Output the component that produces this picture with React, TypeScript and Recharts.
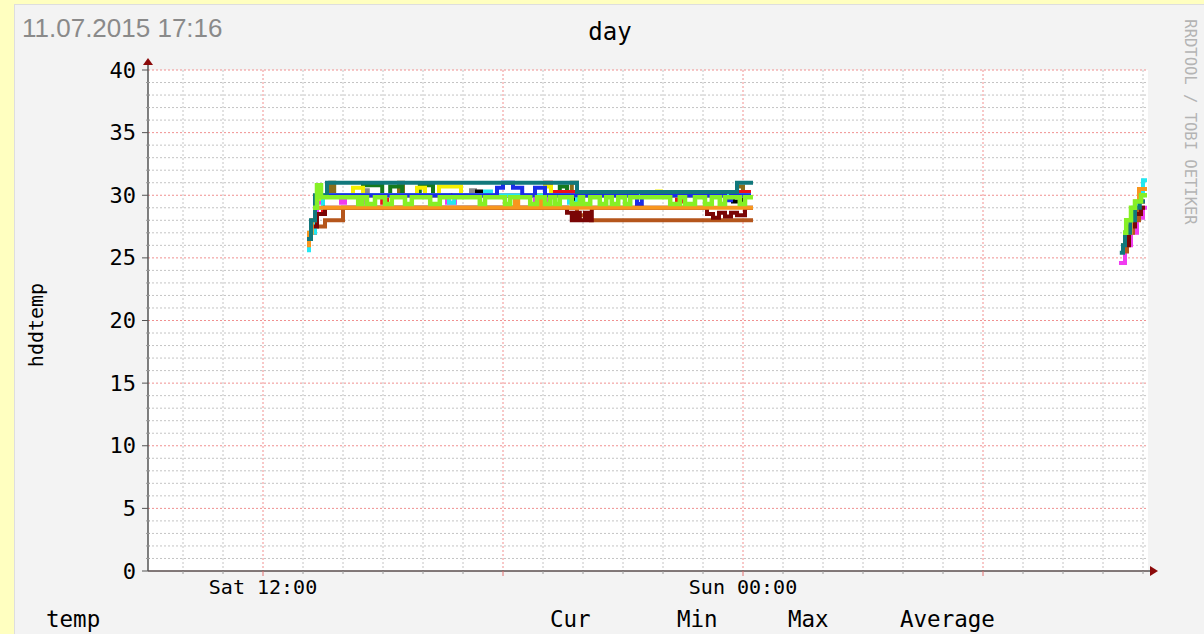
import React from 'react';
import {
  LineChart,
  Line,
  XAxis,
  YAxis,
  CartesianGrid,
  ReferenceDot
} from 'recharts';

type Pt = [number, number | null];

// time axis in hours since Sat 00:00
const hourStart = 9.125;
const hourEnd = 34.125;
const hourTicks = [10, 11, 12, 13, 14, 15, 16, 17, 18, 19, 20, 21, 22, 23, 24, 25, 26, 27, 28, 29, 30, 31, 32, 33, 34];
const majorHours = [12, 18, 24, 30];
const minorHours = [10, 11, 13, 14, 15, 16, 17, 19, 20, 21, 22, 23, 25, 26, 27, 28, 29, 31, 32, 33, 34];
const labelHours = [12, 24];
const labelTexts = ['Sat 12:00', 'Sun 00:00'];

const tempTicks = [0, 1, 2, 3, 4, 5, 6, 7, 8, 9, 10, 11, 12, 13, 14, 15, 16, 17, 18, 19, 20, 21, 22, 23, 24, 25, 26, 27, 28, 29, 30, 31, 32, 33, 34, 35, 36, 37, 38, 39, 40];
const majorTemps = [5, 10, 15, 20, 25, 30, 35, 40];
const minorTemps = [1, 2, 3, 4, 6, 7, 8, 9, 11, 12, 13, 14, 16, 17, 18, 19, 21, 22, 23, 24, 26, 27, 28, 29, 31, 32, 33, 34, 36, 37, 38, 39];

const legendHeads = ['temp', 'Cur', 'Min', 'Max', 'Average'];

// one list of [hour, °C] step points per drive
const grayTemps: Pt[] = [[13.6, 30], [14.55, 30.4], [14.62, 30], [17.2, 30.4], [17.3, 30], [24.2, 30]];
const oliveTemps: Pt[] = [[13.6, 30], [13.68, 31], [13.78, 30], [15.4, 31], [15.5, 30], [19.72, 31], [19.85, 30], [23.85, 30.7], [24.0, 30], [24.2, 30]];
const darkGreenTemps: Pt[] = [[13.6, 30], [14.5, 30.8], [14.98, 30], [15.18, 30.7], [15.48, 30], [15.92, 30.8], [16.25, 30], [19.42, 30.7], [19.6, 30], [24.2, 30]];
const blackTemps: Pt[] = [[13.6, 30], [17.35, 30.3], [17.45, 30], [19.75, 29.5], [19.95, 30], [23.75, 29.5], [23.95, 30], [24.2, 30]];
const redTemps: Pt[] = [[13.15, 27], [13.3, 28.5], [13.5, 30], [14.98, 29.4], [15.1, 30], [19.05, 31], [19.2, 30.25], [22.35, 29.5], [22.5, 30.25], [24.2, 30.25], [24.3, null], [33.7, 28.5], [33.9, 29.5], [34.05, 29.5]];
const yellowTemps: Pt[] = [[13.3, 29.5], [13.45, 30], [14.25, 30.6], [14.5, 30], [15.85, 30.6], [16.05, 30], [16.4, 30.7], [16.95, 30], [19.05, 30.7], [19.2, 30], [21.85, 30.3], [21.95, 30], [24.2, 30]];
const magentaTemps: Pt[] = [[13.2, 28], [13.35, 29.4], [13.5, 30], [13.95, 29.4], [14.05, 30], [14.4, 29.4], [14.55, 30], [16.6, 29.4], [16.8, 30], [18.8, 29.4], [19.15, 30], [24.2, 30], [24.3, null], [33.4, 24.6], [33.55, 26], [33.7, 27], [33.85, 28.2], [34.0, 29], [34.1, 29]];
const cyanTemps: Pt[] = [[13.1, 25.6], [13.15, 27], [13.3, 29], [13.5, 30], [16.65, 29.4], [16.78, 30], [17.55, 30.3], [17.7, 30], [19.65, 29.4], [19.85, 30], [24.2, 30], [24.3, null], [33.45, 26], [33.6, 27.5], [33.75, 29], [33.9, 30], [34.0, 31.2], [34.1, 31.2]];
const blueTemps: Pt[] = [[13.6, 30], [17.85, 30.6], [18.0, 31], [18.25, 30.6], [18.48, 30], [18.8, 30.6], [19.05, 30], [21.35, 29.3], [21.47, 30], [23.55, 29.6], [23.7, 30], [24.2, 30]];
const brownTemps: Pt[] = [[13.35, 27.5], [13.55, 28], [14.0, 29], [19.85, 28.4], [20.2, 28], [24.25, 28], [24.3, null], [33.45, 25.5], [33.6, 27], [33.75, 28], [33.9, 29], [34.05, 29]];
const darkRedTemps: Pt[] = [[13.25, 27.5], [13.35, 28.5], [13.55, 29], [19.6, 28.6], [19.72, 28], [19.82, 28.6], [19.92, 28], [20.05, 28.6], [20.15, 28], [20.22, 29], [23.1, 28.5], [23.25, 28.2], [23.4, 28.6], [23.55, 28.3], [23.7, 28.6], [23.85, 28.4], [24.05, 29], [24.25, 29], [24.3, null], [33.5, 26], [33.65, 27.5], [33.8, 28.5], [33.95, 29], [34.05, 29]];
const orangeTemps: Pt[] = [[13.1, 26], [13.15, 27], [13.22, 28], [13.3, 29], [18.3, 29.6], [18.38, 29], [18.85, 29.6], [18.95, 29], [24.25, 29], [24.3, null], [33.45, 26], [33.55, 27], [33.7, 28.5], [33.8, 29.5], [33.9, 30.5], [34.1, 30.5]];
const tealTemps: Pt[] = [[13.1, 26.5], [13.2, 28], [13.3, 30], [13.6, 31], [19.85, 30.25], [23.85, 31], [24.25, 31], [24.3, null], [33.42, 25.4], [33.5, 26], [33.55, 27], [33.68, 28], [33.8, 29], [33.92, 29.5], [34.05, 29.5]];
const limeTemps: Pt[] = [[13.25, 29], [13.35, 30.8], [13.45, 29.85], [14.38, 29.3], [14.48, 29.85], [14.6, 29.3], [14.8, 29.85], [15.05, 29.3], [15.22, 29.85], [15.55, 29.3], [15.72, 29.85], [16.18, 29.3], [16.42, 29.85], [17.42, 29.3], [17.55, 29.85], [18.05, 29.3], [18.18, 29.85], [18.68, 29.3], [18.85, 29.85], [19.05, 29.3], [19.18, 29.85], [19.3, 29.3], [19.42, 29.85], [19.72, 29.3], [19.92, 29.85], [20.0, 29.3], [20.18, 29.85], [20.42, 29.3], [20.58, 29.85], [20.72, 29.3], [20.88, 29.85], [21.05, 29.3], [21.18, 29.85], [22.18, 29.3], [22.42, 29.85], [22.55, 29.3], [22.8, 29.85], [23.05, 29.3], [23.22, 29.85], [23.42, 29.3], [23.55, 29.85], [23.92, 29.3], [24.05, 29.85], [24.25, 29.85], [24.3, null], [33.5, 27], [33.58, 28], [33.7, 29], [33.8, 29.5], [33.95, 30], [34.1, 30]];

// drawing order: later ones on top
const drives: { key: string; pts: Pt[]; color: string }[] = [
  { key: 'gray', pts: grayTemps, color: '#8a8a8a' },
  { key: 'olive', pts: oliveTemps, color: '#8a6d1a' },
  { key: 'darkgreen', pts: darkGreenTemps, color: '#157a1c' },
  { key: 'black', pts: blackTemps, color: '#000000' },
  { key: 'red', pts: redTemps, color: '#ec1018' },
  { key: 'yellow', pts: yellowTemps, color: '#f4f000' },
  { key: 'magenta', pts: magentaTemps, color: '#f03cf0' },
  { key: 'cyan', pts: cyanTemps, color: '#22e8f2' },
  { key: 'blue', pts: blueTemps, color: '#1c2ce8' },
  { key: 'brown', pts: brownTemps, color: '#b5561c' },
  { key: 'darkred', pts: darkRedTemps, color: '#7a0606' },
  { key: 'orange', pts: orangeTemps, color: '#f8961e' },
  { key: 'teal', pts: tealTemps, color: '#11787c' },
  { key: 'lime', pts: limeTemps, color: '#86f026' }
];

const mono = "'DejaVu Sans Mono', monospace";

const HourTick = ({ x, y, payload }: any) => {
  const h = payload.value;
  const major = majorHours.includes(h);
  const idx = labelHours.indexOf(h);
  return (
    <g>
      <line x1={x} x2={x} y1={y} y2={y + (major ? 5 : 3)} stroke={major ? '#e07070' : '#9a9a9a'} />
      {idx >= 0 && (
        <text x={x} y={y} dy={23} textAnchor="middle" fontFamily={mono} fontSize={20} fill="#000">
          {labelTexts[idx]}
        </text>
      )}
    </g>
  );
};

const TempTick = ({ x, y, payload }: any) => {
  const v = payload.value;
  const major = v % 5 === 0;
  return (
    <g>
      {major ? (
        <line x1={x - 6} x2={x} y1={y} y2={y} stroke="#555" />
      ) : (
        <line x1={x - 2} x2={x + 2} y1={y} y2={y} stroke="#9a9a9a" />
      )}
      {major && (
        <text x={x - 12} y={y} dy={7.5} textAnchor="end" fontFamily={mono} fontSize={22} fill="#000">
          {v}
        </text>
      )}
    </g>
  );
};

const UpArrow = ({ cx, cy }: any) => (
  <g>
    <line x1={cx} x2={cx} y1={cy} y2={cy - 6} stroke="#555" strokeWidth={1.5} />
    <path d={`M${cx - 5},${cy - 5} L${cx + 5},${cy - 5} L${cx},${cy - 12} Z`} fill="#8b0a0a" />
  </g>
);

const RightArrow = ({ cx, cy }: any) => (
  <g>
    <line x1={cx} x2={cx + 3} y1={cy} y2={cy} stroke="#555" strokeWidth={1.5} />
    <path d={`M${cx + 2},${cy - 5} L${cx + 2},${cy + 5} L${cx + 10},${cy} Z`} fill="#8b0a0a" />
  </g>
);

export default function App() {
  return (
    <div style={{ position: 'absolute', left: 0, top: 0, width: 1204, height: 634, background: '#ffffc0', overflow: 'hidden' }}>
      <div
        style={{
          position: 'absolute', left: 14, top: 4, width: 1200, height: 640,
          background: '#f3f3f3', borderLeft: '1px solid #dedede', borderTop: '1px solid #dedede'
        }}
      />
      <svg width={1204} height={634} style={{ position: 'absolute', left: 0, top: 0 }}>
        <text x={22} y={37} fontFamily="'Liberation Sans', Arial, sans-serif" fontSize={26} fill="#8a8a8a">
          11.07.2015 17:16
        </text>
        <text x={610} y={40} textAnchor="middle" fontFamily={mono} fontSize={24} fill="#000">day</text>
        <text transform="translate(43,325) rotate(-90)" textAnchor="middle" fontFamily={mono} fontSize={20} fill="#000">
          hddtemp
        </text>
        <text transform="translate(1190,122) rotate(90)" textAnchor="middle" dominantBaseline="central" fontFamily={mono} fontSize={15.5} fill="#b4b4b4">
          RRDTOOL / TOBI OETIKER
        </text>
        {legendHeads.map((h, i) => (
          <text key={h} x={[46, 550, 677, 788, 900][i]} y={627} fontFamily={mono} fontSize={22.5} fill="#000">{h}</text>
        ))}
      </svg>
      <div style={{ position: 'absolute', left: 0, top: 0 }}>
        <LineChart width={1204} height={634} margin={{ top: 70, right: 56, bottom: 33, left: 88 }}>
          <CartesianGrid
            fill="#ffffff"
            horizontalValues={minorTemps}
            verticalValues={minorHours}
            stroke="#c4c4c4"
            strokeDasharray="2 2"
          />
          <CartesianGrid
            horizontalValues={majorTemps}
            verticalValues={majorHours}
            stroke="#f09090"
            strokeDasharray="2 2"
          />
          <XAxis
            type="number"
            dataKey="t"
            domain={[hourStart, hourEnd]}
            allowDataOverflow
            ticks={hourTicks}
            interval={0}
            tick={<HourTick />}
            tickLine={false}
            tickSize={0}
            tickMargin={0}
            height={30}
            axisLine={{ stroke: '#5a4c4c', strokeWidth: 1.5 }}
          />
          <YAxis
            type="number"
            domain={[0, 40]}
            allowDataOverflow
            ticks={tempTicks}
            interval={0}
            tick={<TempTick />}
            tickLine={false}
            tickSize={0}
            tickMargin={0}
            width={60}
            axisLine={{ stroke: '#555', strokeWidth: 1.5 }}
          />
          {drives.map(d => (
            <Line
              key={d.key}
              data={d.pts.map(([t, v]) => ({ t, v }))}
              dataKey="v"
              type="stepAfter"
              stroke={d.color}
              strokeWidth={d.key === 'lime' ? 4.5 : 4}
              dot={false}
              activeDot={false}
              isAnimationActive={false}
            />
          ))}
          <ReferenceDot x={hourStart} y={40} r={0} shape={<UpArrow />} />
          <ReferenceDot x={hourEnd} y={0} r={0} shape={<RightArrow />} />
        </LineChart>
      </div>
    </div>
  );
}
